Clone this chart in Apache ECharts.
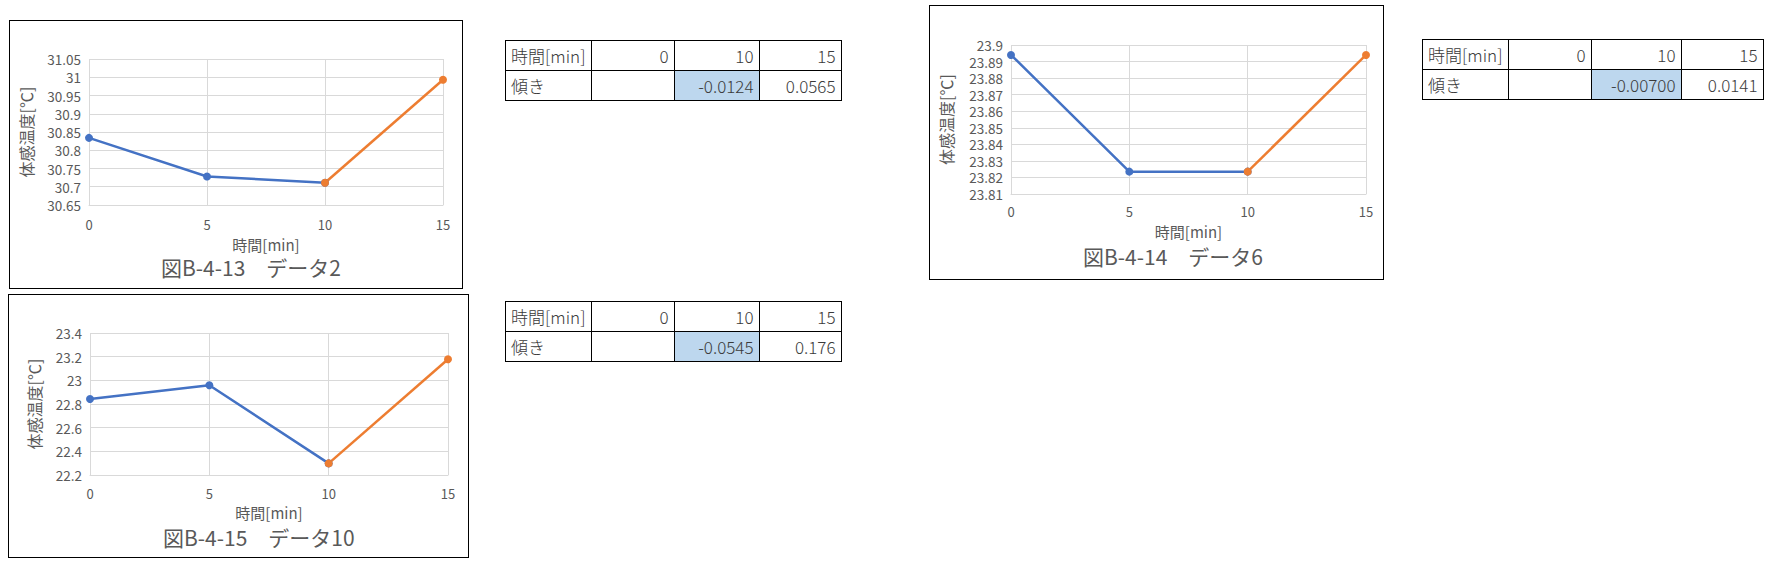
<!DOCTYPE html>
<html><head><meta charset="utf-8">
<script src="https://cdn.jsdelivr.net/npm/echarts@6/dist/echarts.min.js"></script>
<style>
html,body{margin:0;padding:0;background:#fff;width:1768px;height:567px;overflow:hidden;font-family:"Noto Sans CJK JP","Noto Sans",sans-serif;}
.panel{position:absolute;border:1.5px solid #000;box-sizing:border-box;background:#fff;}
table.t{position:absolute;border-collapse:collapse;font-family:"Noto Sans CJK JP","Noto Sans",sans-serif;font-size:17px;font-weight:300;color:#3a3a3a;}
table.t td{border:1.5px solid #000;height:29px;padding:0 5px;line-height:29px;white-space:nowrap;box-sizing:border-box;}
table.t td.num{text-align:right;}
table.t td.hl{background:#BDD7EE;}
</style></head>
<body>
<div id="p1" class="panel" style="left:9px;top:20px;width:454px;height:269px"></div>
<div id="p2" class="panel" style="left:929px;top:5px;width:455px;height:275px"></div>
<div id="p3" class="panel" style="left:8px;top:294px;width:461px;height:264px"></div>
<script>
// ---- data ----
var times = [0, 5, 10, 15];
var data2 = [30.834, 30.728, 30.711, 30.993];
var data6 = [23.894, 23.8235, 23.8235, 23.894];
var data10 = [22.842, 22.958, 22.298, 23.178];
var captions = ['図B-4-13　データ2', '図B-4-14　データ6', '図B-4-15　データ10'];
var yTitle = '体感温度[℃]';
var xTitle = '時間[min]';
var tableHeader = ['時間[min]', '0', '10', '15'];
var slopeLabel = '傾き';
var slopes2 = ['', '-0.0124', '0.0565'];
var slopes6 = ['', '-0.00700', '0.0141'];
var slopes10 = ['', '-0.0545', '0.176'];

var FONT = '"Noto Sans CJK JP","Noto Sans",sans-serif';

function pairs(vals, from, to) {
  var out = [];
  for (var i = from; i <= to; i++) out.push([times[i], vals[i]]);
  return out;
}

function makeChart(id, vals, cap, cfg) {
  var ch = echarts.init(document.getElementById(id), null, {renderer: 'svg'});
  ch.setOption({
    animation: false,
    textStyle: {fontFamily: FONT},
    title: {
      text: cap, left: cfg.capLeft, top: cfg.capTop,
      textStyle: {fontFamily: FONT, fontSize: 21, fontWeight: 'normal', color: '#595959'}
    },
    grid: {left: cfg.gl, right: cfg.gr, top: cfg.gt, bottom: cfg.gb, containLabel: false, outerBoundsMode: 'none'},
    xAxis: {
      type: 'value', min: 0, max: 15, interval: 5,
      name: xTitle, nameLocation: 'middle', nameGap: cfg.xGap,
      nameTextStyle: {fontFamily: FONT, fontSize: 15, color: '#595959'},
      axisLine: {show: true, lineStyle: {color: '#d9d9d9', width: 1}},
      axisTick: {show: false},
      axisLabel: {fontFamily: FONT, fontSize: 13, color: '#595959', margin: cfg.xMargin},
      splitLine: {show: true, lineStyle: {color: '#d9d9d9', width: 1}}
    },
    yAxis: {
      type: 'value', min: cfg.min, max: cfg.max, interval: cfg.step,
      name: yTitle, nameLocation: 'middle', nameGap: cfg.yGap, nameRotate: 90,
      nameTextStyle: {fontFamily: FONT, fontSize: 16, color: '#595959'},
      axisLine: {show: false},
      axisTick: {show: false},
      axisLabel: {fontFamily: FONT, fontSize: 13.5, color: '#595959', margin: 8,
        formatter: function (v) { return String(parseFloat(v.toFixed(cfg.dec))); }},
      splitLine: {show: true, lineStyle: {color: '#d9d9d9', width: 1}}
    },
    series: [
      {type: 'line', data: pairs(vals, 0, 2), symbol: 'circle', symbolSize: 8,
       itemStyle: {color: '#4472C4'}, lineStyle: {color: '#4472C4', width: 2.5}},
      {type: 'line', data: pairs(vals, 2, 3), symbol: 'circle', symbolSize: 8,
       itemStyle: {color: '#ED7D31'}, lineStyle: {color: '#ED7D31', width: 2.5}}
    ]
  });
}

makeChart('p1', data2, captions[0], {gl: 79, gr: 19, gt: 38, gb: 83, min: 30.65, max: 31.05, step: 0.05, dec: 2,
  xGap: 32, xMargin: 13, yGap: 55, capLeft: 146, capTop: 230});
makeChart('p2', data6, captions[1], {gl: 81, gr: 17, gt: 39, gb: 85, min: 23.81, max: 23.9, step: 0.01, dec: 2,
  xGap: 30, xMargin: 11, yGap: 57, capLeft: 148, capTop: 234});
makeChart('p3', data10, captions[2], {gl: 81, gr: 20, gt: 38, gb: 82, min: 22.2, max: 23.4, step: 0.2, dec: 1,
  xGap: 29, xMargin: 12, yGap: 48, capLeft: 149, capTop: 226});

function makeTable(left, top, widths, slopes) {
  var t = document.createElement('table');
  t.className = 't';
  t.style.left = left + 'px';
  t.style.top = top + 'px';
  var r1 = t.insertRow(), r2 = t.insertRow();
  for (var i = 0; i < 4; i++) {
    var c = r1.insertCell();
    c.textContent = tableHeader[i];
    c.style.width = widths[i] + 'px';
    if (i > 0) c.className = 'num';
    var d = r2.insertCell();
    d.textContent = i === 0 ? slopeLabel : slopes[i - 1];
    if (i > 0) d.className = 'num';
    if (i === 2) d.className = 'num hl';
  }
  document.body.appendChild(t);
}
makeTable(505, 40, [83, 83, 85, 82], slopes2);
makeTable(1422, 39, [83, 83, 90, 82], slopes6);
makeTable(505, 301, [83, 83, 85, 82], slopes10);
</script>
</body></html>
